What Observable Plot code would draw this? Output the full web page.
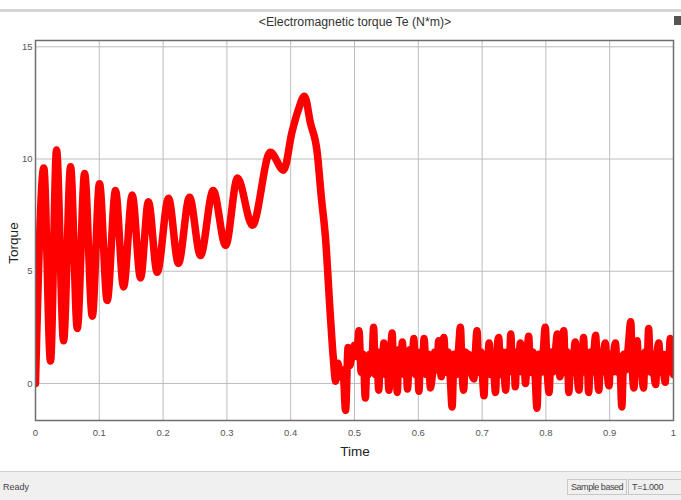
<!DOCTYPE html>
<html>
<head>
<meta charset="utf-8">
<script src="https://cdn.jsdelivr.net/npm/d3@7"></script>
<script src="https://cdn.jsdelivr.net/npm/@observablehq/plot@0.6"></script>
<style>
  html, body { margin: 0; padding: 0; background: #fff; }
  #wrap { position: relative; width: 681px; height: 500px; overflow: hidden; font-family: "Liberation Sans", Arial, sans-serif; }
  #topline { position: absolute; left: 0; top: 9px; width: 681px; height: 3px; background: #d4d4d4; }
  #title { position: absolute; left: 0; width: 710px; top: 15px; text-align: center; font-size: 12.3px; color: #333; }
  #icon { position: absolute; left: 674px; top: 16px; width: 7px; height: 9px; background: #555; }
  #chart { position: absolute; left: 0; top: 0; }
  #xlabel { position: absolute; left: 0; width: 710px; top: 444px; text-align: center; font-size: 13.5px; color: #222; }
  #ylabel { position: absolute; left: 13px; top: 243px; font-size: 13.5px; color: #222; transform: translate(-50%, -50%) rotate(-90deg); white-space: nowrap; }
  #status { position: absolute; left: 0; top: 471px; width: 681px; height: 29px; background: #f0f0f0; border-top: 1px solid #cfcfcf; font-size: 9px; color: #444; }
  #ready { position: absolute; left: 3px; top: 10px; }
  #sample { position: absolute; left: 567px; top: 7px; padding: 2px 3px; border: 1px solid #c8c8c8; letter-spacing: -0.45px; white-space: nowrap; }
  #tval { position: absolute; left: 628px; top: 7px; padding: 2px 3px; border: 1px solid #c8c8c8; letter-spacing: -0.3px; white-space: nowrap; width: 48px; }
</style>
</head>
<body>
<div id="wrap">
  <div id="topline"></div>
  <div id="title"></div>
  <div id="icon"></div>
  <div id="chart"></div>
  <div id="xlabel"></div>
  <div id="ylabel"></div>
  <div id="status"><span id="ready"></span><span id="sample"></span><span id="tval"></span></div>
</div>
<script>
const chartTitle = "<Electromagnetic torque Te (N*m)>";
const xLabel = "Time";
const yLabel = "Torque";
const statusLeft = "Ready";
const statusMode = "Sample based";
const statusTime = "T=1.000";

const xTicks = [0, 0.1, 0.2, 0.3, 0.4, 0.5, 0.6, 0.7, 0.8, 0.9, 1];
const yTicks = [0, 5, 10, 15];

// start-up transient
const timeStart = [
  0, 0.013, 0.0235, 0.033, 0.044, 0.055, 0.0655, 0.077, 0.089, 0.1003,
  0.1124, 0.1254, 0.138, 0.1516, 0.1646, 0.177, 0.1907, 0.2085, 0.224, 0.2414,
  0.2586, 0.2785, 0.298, 0.3166, 0.34, 0.368, 0.389, 0.402, 0.412, 0.4216,
  0.431, 0.4415, 0.448, 0.4545, 0.462, 0.4666, 0.4705
];
const torqueStart = [
  0, 9.6, 1.0, 10.4, 1.9, 9.65, 2.45, 9.35, 3.0, 8.9,
  3.7, 8.6, 4.3, 8.4, 4.7, 8.1, 4.95, 8.25, 5.35, 8.3,
  5.7, 8.6, 6.15, 9.15, 7.05, 10.3, 9.5, 11.2, 12.2, 12.8,
  11.6, 10.3, 8.3, 6.5, 3.1, 1.2, 0.1
];

// steady-state ripple after the load step
const timeRipple = [
  0.474, 0.478, 0.482, 0.486, 0.490, 0.4925, 0.495, 0.500, 0.5035, 0.507,
  0.5105, 0.5135, 0.517, 0.5195, 0.5215, 0.524, 0.527, 0.530, 0.5325, 0.535,
  0.538, 0.5405, 0.543, 0.546, 0.5485, 0.551, 0.554, 0.5565, 0.559, 0.5615,
  0.5645, 0.567, 0.5695, 0.5725, 0.575, 0.5775, 0.5805, 0.583, 0.5865, 0.5895,
  0.593, 0.5955, 0.5985, 0.601, 0.6035, 0.6065, 0.609, 0.6125, 0.616, 0.619,
  0.6225, 0.626, 0.629, 0.632, 0.636, 0.640, 0.6435, 0.6465, 0.650, 0.653,
  0.656, 0.6595, 0.663, 0.666, 0.6685, 0.671, 0.674, 0.6765, 0.679, 0.683,
  0.687, 0.6895, 0.692, 0.695, 0.698, 0.7005, 0.703, 0.7055, 0.708, 0.711,
  0.7135, 0.716, 0.7185, 0.721, 0.7235, 0.726, 0.729, 0.732, 0.7345, 0.737,
  0.7395, 0.7425, 0.745, 0.7475, 0.750, 0.752, 0.7545, 0.757, 0.760, 0.763,
  0.7655, 0.768, 0.7705, 0.773, 0.776, 0.7795, 0.783, 0.786, 0.789, 0.7925,
  0.796, 0.799, 0.802, 0.805, 0.808, 0.811, 0.8145, 0.818, 0.822, 0.825,
  0.828, 0.8305, 0.8335, 0.836, 0.8385, 0.8415, 0.846, 0.849, 0.852, 0.8545,
  0.8565, 0.859, 0.8615, 0.8645, 0.867, 0.870, 0.8725, 0.8755, 0.878, 0.8805,
  0.883, 0.8855, 0.888, 0.8905, 0.893, 0.896, 0.899, 0.9015, 0.904, 0.9065,
  0.909, 0.912, 0.9155, 0.919, 0.922, 0.925, 0.929, 0.933, 0.9355, 0.938,
  0.9405, 0.943, 0.9455, 0.948, 0.9505, 0.953, 0.9555, 0.9585, 0.961, 0.964,
  0.967, 0.9695, 0.972, 0.9745, 0.977, 0.980, 0.9825, 0.985, 0.987, 0.9895,
  0.992, 0.995, 0.9975, 1.0
];
const torqueRipple = [
  0.9, 0.3, 0.6, -1.2, 1.6, 0.8, 1.1, 1.7, 1.2, 2.35,
  0.5, 1.3, -0.65, 1.0, 0.4, 1.3, 0.8, 2.5, 0.4, 1.4,
  -0.3, 1.4, 0.5, 1.8, 0.4, 1.3, -0.3, 1.2, 2.25, 0.5,
  1.3, -0.4, 1.5, 0.5, 1.85, 0.4, 1.4, -0.25, 1.5, 0.5,
  2.0, 0.4, 1.3, -0.35, 1.4, 0.5, 2.0, 0.4, 1.3, -0.2,
  0.5, 1.4, 0.6, 1.9, 0.3, 2.05, 0.5, 1.4, 0.3, -1.05,
  1.3, 0.4, 1.5, 2.5, 0.6, -0.3, 1.4, 0.6, 1.3, 0.5,
  0.2, 1.4, 2.35, 0.5, 1.4, 0.4, -0.55, 1.3, 0.6, 1.8,
  0.4, 1.3, 0.5, -0.4, 1.5, 2.05, 0.4, 1.4, 0.5, -0.3,
  1.4, 0.6, 2.2, 0.5, 1.3, -0.15, 1.4, 0.6, 1.8, 0.5,
  1.3, 0.0, 1.2, 2.1, 0.5, 1.4, 0.4, -1.1, 1.3, 0.5,
  1.5, 2.5, 0.6, -0.4, 1.4, 0.5, 1.3, 2.2, 0.3, 1.4,
  2.35, 0.5, 1.4, -0.4, 1.3, 0.5, 1.85, 0.4, -0.3, 1.4,
  0.6, 2.05, 0.5, 1.3, -0.4, 1.4, 0.5, 1.5, 2.15, 0.5,
  -0.3, 1.3, 0.5, 1.4, 1.8, 0.5, -0.1, 1.3, 0.5, 1.4,
  1.8, 0.5, 1.2, -1.05, 1.3, 0.6, 1.6, 2.75, 0.6, -0.2,
  1.4, 1.9, 0.5, 1.3, 0.4, -0.2, 1.4, 0.6, 2.45, 0.5,
  1.3, 0.4, -0.05, 1.4, 1.8, 0.5, 1.3, 0.4, 0.05, 1.3,
  0.6, 2.0, 0.6, 0.4
];

const time = timeStart.concat(timeRipple);
const torque = torqueStart.concat(torqueRipple);
const data = time.map((t, i) => ({t, v: torque[i]}));

document.getElementById("title").textContent = chartTitle;
document.getElementById("xlabel").textContent = xLabel;
document.getElementById("ylabel").textContent = yLabel;
document.getElementById("ready").textContent = statusLeft;
document.getElementById("sample").textContent = statusMode;
document.getElementById("tval").textContent = statusTime;

const plot = Plot.plot({
  width: 681,
  height: 470,
  marginTop: 40,
  marginBottom: 50,
  marginLeft: 35,
  marginRight: 8,
  style: {background: "transparent", fontFamily: "Liberation Sans, Arial, sans-serif", fontSize: "9.5px", color: "#555"},
  x: {domain: [0, 1]},
  y: {domain: [-1.65, 15.28]},
  marks: [
    Plot.gridX(xTicks, {stroke: "#bdbdbd", strokeOpacity: 1, strokeWidth: 1}),
    Plot.gridY(yTicks, {stroke: "#bdbdbd", strokeOpacity: 1, strokeWidth: 1}),
    Plot.line(data, {x: "t", y: "v", stroke: "#f00", strokeWidth: 7.5, curve: "monotone-x", clip: true, strokeLinejoin: "round"}),
    Plot.frame({stroke: "#6e6e6e", strokeWidth: 1.5}),
    Plot.axisX(xTicks, {tickSize: 0, tickPadding: 9, label: null, fill: "#555", tickFormat: d => String(d)}),
    Plot.axisY(yTicks, {tickSize: 0, tickPadding: 3, label: null, fill: "#555", tickFormat: d => String(d)})
  ]
});
document.getElementById("chart").appendChild(plot);
</script>
</body>
</html>
